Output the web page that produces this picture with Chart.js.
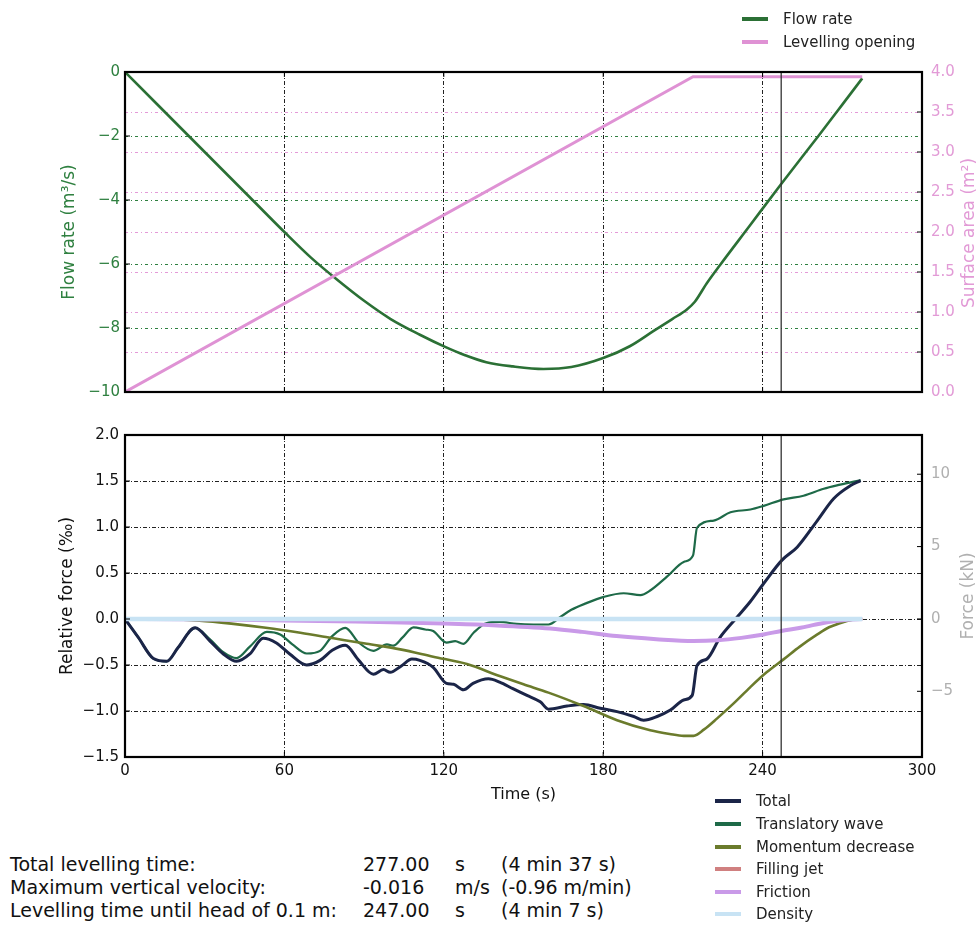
<!DOCTYPE html>
<html>
<head>
<meta charset="utf-8">
<title>Levelling</title>
<script src="https://cdn.jsdelivr.net/npm/chart.js@4.4.0/dist/chart.umd.min.js"></script>
<style>
body{margin:0;background:#fff;font-family:"DejaVu Sans",sans-serif;}
#page{position:relative;width:977px;height:943px;overflow:hidden;}
#page canvas{position:absolute;left:0;}
#topChart{top:0;}
#bottomChart{top:410px;}
.legend{position:absolute;font-size:15px;color:#222;}
.legend div{position:absolute;left:0;white-space:nowrap;display:flex;align-items:center;height:20px;}
.legend .sw{display:inline-block;width:26px;height:4px;margin-right:15px;}
.vtitle{position:absolute;white-space:nowrap;font-size:17px;transform:translate(-50%,-50%) rotate(-90deg);}
.stats div{position:absolute;white-space:nowrap;font-size:19px;color:#111;}
</style>
</head>
<body>
<div id="page">
  <canvas id="topChart" width="977" height="410"></canvas>
  <canvas id="bottomChart" width="977" height="395"></canvas>
  <div class="legend" id="topLegend" style="left:742px;top:0"></div>
  <div class="legend" id="bottomLegend" style="left:715px;top:0"></div>
  <div class="vtitle" style="left:968px;top:233px;color:#e29ad6">Surface area (m²)</div>
  <div class="vtitle" style="left:967px;top:596px;color:#b0b0b0">Force (kN)</div>
  <div class="stats" id="stats"></div>
</div>
<script>
// ---- top chart data (time in s)
const flowTime=[0,24,48,60,70,80,90,100,111,120.5,128,136,146,157.5,168,180,190,199,206,211.5,214.5,219,224,235,247,261,270,277.5];
const flowRate=[0,-2.0,-4.0,-5.0,-5.8,-6.5,-7.15,-7.72,-8.21,-8.59,-8.85,-9.07,-9.2,-9.28,-9.22,-8.94,-8.57,-8.09,-7.72,-7.42,-7.18,-6.6,-6.03,-4.82,-3.5,-2.0,-1.02,-0.2];
const openTime=[0,213.8,277.5];
const openArea=[0,3.94,3.94];
const headTime=247;

// ---- bottom chart data (relative force, ‰)
const totalTime=[0,5,10.7,15.7,20,26.4,32,37,42,47,52,57,62,68.4,73.4,78,82.9,88,93.5,97.3,99.8,104,108,111,116,121,123.7,127.4,131,136.8,141,146,151.3,156.3,159.4,166.4,172.6,178.9,185.2,191.5,195.2,200.3,205.3,210.3,213.5,215.3,219,224,229.8,235.4,240.4,247.3,253,260.6,266.8,273.1,276.9];
const totalForce=[0,-0.2,-0.43,-0.46,-0.31,-0.096,-0.24,-0.38,-0.46,-0.38,-0.21,-0.26,-0.38,-0.5,-0.45,-0.34,-0.286,-0.45,-0.6,-0.55,-0.58,-0.51,-0.436,-0.45,-0.525,-0.7,-0.71,-0.77,-0.7,-0.65,-0.686,-0.757,-0.83,-0.9,-0.98,-0.946,-0.93,-0.97,-1.007,-1.06,-1.1,-1.06,-0.99,-0.88,-0.83,-0.507,-0.436,-0.2,0,0.19,0.386,0.64,0.78,1.07,1.31,1.45,1.505];
const waveTime=[0,5,10.7,15.7,20,26.4,32,37,42,47,53.4,58.4,63,68.4,73.4,78,82.9,88,93.5,98.6,101,104.5,108.6,113,116,121,124.3,127.4,131.2,136.2,141,147.5,153.8,159.4,164,168,173.5,180.2,187.7,194,197.7,204,210.3,213.8,215.3,221.6,227.9,235.4,240.4,247.9,255.4,263,269.2,276.9];
const waveForce=[0,-0.2,-0.43,-0.46,-0.31,-0.096,-0.22,-0.36,-0.425,-0.3,-0.14,-0.168,-0.275,-0.375,-0.346,-0.186,-0.096,-0.257,-0.346,-0.275,-0.29,-0.2,-0.09,-0.114,-0.13,-0.257,-0.24,-0.27,-0.15,-0.043,-0.032,-0.054,-0.06,-0.06,0.025,0.1,0.17,0.24,0.28,0.26,0.31,0.46,0.62,0.69,0.99,1.07,1.16,1.19,1.23,1.3,1.34,1.415,1.46,1.51];
const momTime=[0,15,28,40,53,66,78.5,91,103.6,116,128.7,141,150,159.4,172.6,185.2,197.7,205,210.3,214,218,222.9,229,235.4,241.5,248,254,260.6,265,269.4,273,277.5];
const momForce=[0,-0.003,-0.018,-0.05,-0.095,-0.15,-0.21,-0.27,-0.33,-0.41,-0.49,-0.62,-0.71,-0.8,-0.946,-1.1,-1.21,-1.25,-1.27,-1.27,-1.2,-1.08,-0.92,-0.74,-0.58,-0.436,-0.3,-0.168,-0.09,-0.043,-0.012,0];
const jetTime=[0,277.5];
const jetForce=[0,0];
const fricTime=[0,20,40,60,80,100,120,140,160,172,185,200,214,223,232,240.4,247,254.3,260,266.8,272,277.5];
const fricForce=[0,-0.002,-0.008,-0.015,-0.025,-0.035,-0.05,-0.07,-0.104,-0.14,-0.186,-0.22,-0.24,-0.232,-0.205,-0.168,-0.13,-0.096,-0.06,-0.025,-0.008,0];
const densTime=[0,277.5];
const densForce=[0,0];

// ---- axes / ticks
const timeTicks=[0,60,120,180,240,300];
const forceKnTicks=[-5,0,5,10];

// ---- legends and summary text
const topLabels=["Flow rate","Levelling opening"];
const topColors=["#2b7035","#df92d4"];
const bottomLabels=["Total","Translatory wave","Momentum decrease","Filling jet","Friction","Density"];
const bottomColors=["#1b2548","#1e6a48","#6b7b2c","#d08080","#c99ae8","#c8e3f4"];
const statLabels=["Total levelling time:","Maximum vertical velocity:","Levelling time until head of 0.1 m:"];
const statValues=["277.00","-0.016","247.00"];
const statUnits=["s","m/s","s"];
const statNotes=["(4 min 37 s)","(-0.96 m/min)","(4 min 7 s)"];

const pts=(xs,ys)=>xs.map((x,i)=>({x:x,y:ys[i]}));
const minus=s=>String(s).replace("-","\u2212");

Chart.defaults.font.family="DejaVu Sans";
Chart.defaults.font.size=15;
Chart.defaults.color="#111";
Chart.defaults.animation=false;
Chart.defaults.plugins.legend.display=false;
Chart.defaults.plugins.tooltip.enabled=false;

const frame={id:"frame",afterDatasetsDraw(chart){
  const {ctx,chartArea:a,scales}=chart;
  ctx.save();
  ctx.strokeStyle="#000";ctx.lineWidth=1;ctx.setLineDash([]);
  Object.values(scales).forEach(s=>{
    s.ticks.forEach(t=>{
      const p=s.getPixelForValue(t.value);
      ctx.beginPath();
      if(s.isHorizontal()){ctx.moveTo(p,a.bottom);ctx.lineTo(p,a.bottom-5);ctx.moveTo(p,a.top);ctx.lineTo(p,a.top+5);}
      else if(s.position==="left"){ctx.moveTo(a.left,p);ctx.lineTo(a.left+5,p);}
      else{ctx.moveTo(a.right,p);ctx.lineTo(a.right-5,p);}
      ctx.stroke();
    });
  });
  ctx.lineWidth=2.2;
  ctx.strokeRect(a.left,a.top,a.right-a.left,a.bottom-a.top);
  ctx.restore();
}};

function line(data,color,width,order){
  return {data:data,borderColor:color,borderWidth:width,pointRadius:0,fill:false,cubicInterpolationMode:"monotone",order:order};
}

const xScale=(showTicks,h)=>({
  type:"linear",min:0,max:300,
  afterBuildTicks:s=>{s.ticks=timeTicks.map(v=>({value:v}));},
  afterFit:s=>{s.height=h;},
  grid:{color:"#222",lineWidth:1,drawTicks:false},
  border:{display:false,dash:[4,2,1,2]},
  ticks:{display:showTicks,padding:5,color:"#111",font:{size:15}},
  title:{display:showTicks,text:"Time (s)",font:{size:16},color:"#111",padding:{top:0,bottom:1}}
});

// ---- top chart
new Chart(document.getElementById("topChart"),{
  type:"line",
  data:{datasets:[
    Object.assign(line(pts(flowTime,flowRate),topColors[0],2.6,2),{yAxisID:"y"}),
    Object.assign(line(pts(openTime,openArea),topColors[1],3,1),{yAxisID:"y2",cubicInterpolationMode:"default",tension:0}),
    {data:[{x:headTime,y:-10},{x:headTime,y:0}],yAxisID:"y",borderColor:"#333",borderWidth:1.3,pointRadius:0,tension:0,order:0}
  ]},
  options:{
    responsive:false,
    layout:{padding:{top:72,bottom:15,left:0,right:0}},
    scales:{
      x:xScale(false,0),
      y:{position:"left",min:-10,max:0,ticks:{stepSize:2,padding:5,color:"#2f8040",callback:v=>minus(v)},
        afterFit:s=>{s.width=125;},
        grid:{color:"#2f8040",lineWidth:1,drawTicks:false},border:{display:false,dash:[3,3,1,3]},
        title:{display:true,text:"Flow rate (m³/s)",color:"#2f8040",font:{size:17},padding:{top:59,bottom:0}}},
      y2:{position:"right",min:0,max:4,ticks:{stepSize:0.5,padding:9,color:"#e29ad6",callback:v=>v.toFixed(1)},
        afterFit:s=>{s.width=55;},
        grid:{color:"#e49ad8",lineWidth:1,drawTicks:false},border:{display:false,dash:[3,3,1,3]}}
    }
  },
  plugins:[frame]
});

// ---- bottom chart
new Chart(document.getElementById("bottomChart"),{
  type:"line",
  data:{datasets:[
    Object.assign(line(pts(totalTime,totalForce),bottomColors[0],3,5),{yAxisID:"y"}),
    Object.assign(line(pts(waveTime,waveForce),bottomColors[1],2.2,6),{yAxisID:"y"}),
    Object.assign(line(pts(momTime,momForce),bottomColors[2],2.6,4),{yAxisID:"y"}),
    Object.assign(line(pts(jetTime,jetForce),bottomColors[3],2.5,3),{yAxisID:"y"}),
    Object.assign(line(pts(fricTime,fricForce),bottomColors[4],4,2),{yAxisID:"y"}),
    Object.assign(line(pts(densTime,densForce),bottomColors[5],4.5,1),{yAxisID:"y"}),
    {data:[{x:headTime,y:-1.5},{x:headTime,y:2}],yAxisID:"y",borderColor:"#333",borderWidth:1.3,pointRadius:0,tension:0,order:0}
  ]},
  options:{
    responsive:false,
    layout:{padding:{top:25,bottom:0,left:0,right:0}},
    scales:{
      x:xScale(true,48),
      y:{position:"left",min:-1.5,max:2,ticks:{stepSize:0.5,padding:6,color:"#111",callback:v=>minus(v.toFixed(1))},
        afterFit:s=>{s.width=125;},
        grid:{color:"#222",lineWidth:1,drawTicks:false},border:{display:false,dash:[4,2,1,2]},
        title:{display:true,text:"Relative force (‰)",color:"#111",font:{size:17},padding:{top:57,bottom:0}}},
      y2:{position:"right",min:-9.54,max:12.71,
        afterBuildTicks:s=>{s.ticks=forceKnTicks.map(v=>({value:v}));},
        ticks:{padding:9,color:"#b0b0b0",callback:v=>minus(v)},
        afterFit:s=>{s.width=55;},
        grid:{display:false,drawOnChartArea:false,drawTicks:false},border:{display:false}}
    }
  },
  plugins:[frame]
});

// ---- html legends
function buildLegend(el,labels,colors,centers){
  labels.forEach((lab,i)=>{
    const row=document.createElement("div");
    row.style.top=(centers[i]-10)+"px";
    row.innerHTML=`<span class="sw" style="background:${colors[i]}"></span>${lab}`;
    el.appendChild(row);
  });
}
buildLegend(document.getElementById("topLegend"),topLabels,topColors,[19,42]);
buildLegend(document.getElementById("bottomLegend"),bottomLabels,bottomColors,[801,824,847,869,892,914]);

// ---- summary text
const stats=document.getElementById("stats");
const rowY=[865,888,911];
const colX=[10,363,455,501];
statLabels.forEach((lab,i)=>{
  [lab,statValues[i],statUnits[i],statNotes[i]].forEach((txt,j)=>{
    const d=document.createElement("div");
    d.style.left=colX[j]+"px";
    d.style.top=(rowY[i]-12)+"px";
    d.textContent=txt;
    stats.appendChild(d);
  });
});
</script>
</body>
</html>
